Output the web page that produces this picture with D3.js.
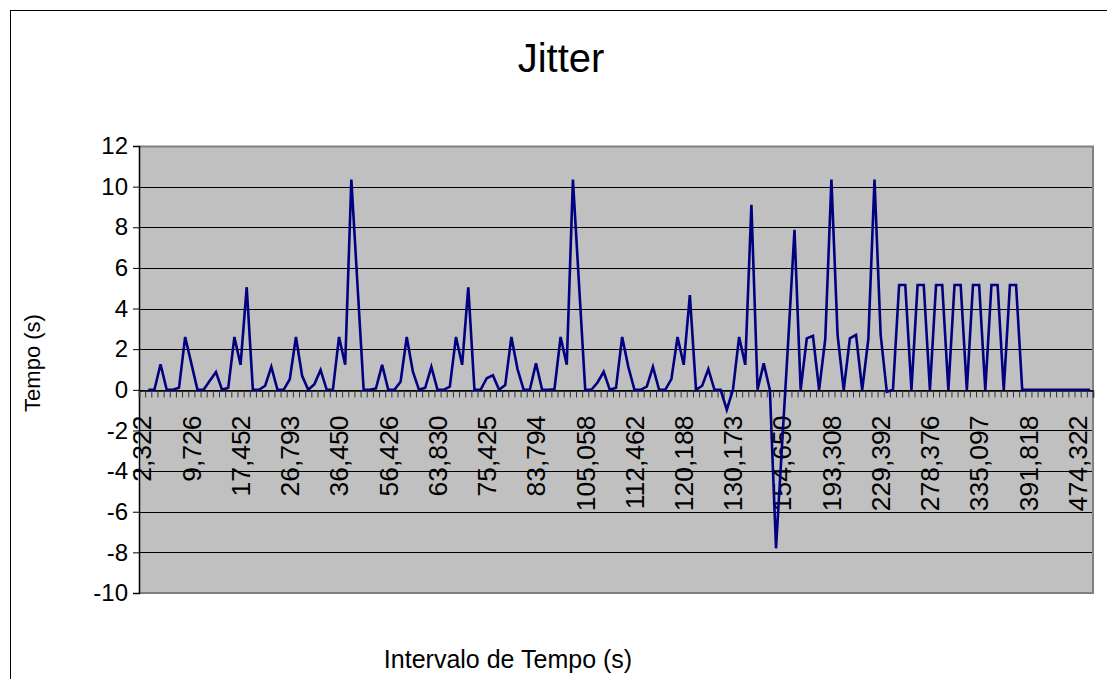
<!DOCTYPE html>
<html>
<head>
<meta charset="utf-8">
<script src="https://cdn.jsdelivr.net/npm/d3@7"></script>
<style>
  body { margin: 0; background: #fff; }
  text { font-family: Arial, "Liberation Sans", sans-serif; fill: #000; }
</style>
</head>
<body>
<div id="canvas"></div>
<script>
// jitter per sample (s) - first sample has no value
const jitter = [
  null, 0, 0, 1.26, 0, 0, 0.1, 2.6, 1.3, 0,
  0, 0.45, 0.87, 0, 0.1, 2.6, 1.23, 5.05, 0, 0,
  0.2, 1.13, 0, 0, 0.52, 2.6, 0.69, 0, 0.28, 0.98,
  0, 0, 2.6, 1.23, 10.35, 5.16, 0, 0, 0.07, 1.23,
  0, 0, 0.4, 2.6, 0.89, 0, 0.1, 1.13, 0, 0,
  0.16, 2.6, 1.23, 5.04, 0, 0, 0.57, 0.72, 0, 0.23,
  2.6, 1.02, 0, 0, 1.3, 0, 0, 0.03, 2.6, 1.23,
  10.35, 5.16, 0, 0, 0.36, 0.89, 0, 0.1, 2.6, 1.13,
  0, 0, 0.16, 1.13, 0, 0, 0.53, 2.6, 1.23, 4.66,
  0, 0.2, 1.02, 0, 0, -0.98, 0, 2.6, 1.23, 9.11,
  0, 1.3, 0, -7.8, -2.6, 2.5, 7.87, 0, 2.53, 2.66,
  0, 2.5, 10.35, 2.7, 0, 2.53, 2.7, 0, 2.5, 10.35,
  2.7, -0.1, 0, 5.16, 5.16, 0, 5.16, 5.16, 0, 5.16,
  5.16, 0, 5.16, 5.16, 0, 5.16, 5.16, 0, 5.16, 5.16,
  0, 5.16, 5.16, 0, 0, 0, 0, 0, 0, 0,
  0, 0, 0, 0, 0
];

// only every 8th category label is shown
const tickLabels = [
  "2,322", "9,726", "17,452", "26,793", "36,450", "56,426", "63,830",
  "75,425", "83,794", "105,058", "112,462", "120,188", "130,173",
  "154,650", "193,308", "229,392", "278,376", "335,097", "391,818", "474,322"
];
const labelStep = 8;
const yTicks = d3.range(-10, 13, 2);

const width = 1107;
const height = 679;
const margin = { top: 146, right: 14, bottom: 86, left: 139 };
const inWidth = width - margin.left - margin.right;
const inHeight = height - margin.top - margin.bottom;

const svg = d3.select("#canvas").append("svg")
  .attr("width", width)
  .attr("height", height);

// outer chart border
svg.append("rect")
  .attr("x", 10.5).attr("y", 10.5)
  .attr("width", width + 10).attr("height", height + 10)
  .attr("fill", "#fff").attr("stroke", "#000");

svg.append("text")
  .attr("x", 561).attr("y", 72)
  .attr("text-anchor", "middle")
  .style("font-size", "40px")
  .text("Jitter");

const n = jitter.length;
const xScale = d3.scaleBand().domain(d3.range(n)).range([0, inWidth]).padding(0);
const xEdge = d3.scaleLinear().domain([0, n]).range([0, inWidth]);
const yScale = d3.scaleLinear().domain([-10, 12]).range([inHeight, 0]);
const bw = xScale.bandwidth();

const g = svg.append("g")
  .attr("transform", `translate(${margin.left},${margin.top})`);

g.append("rect")
  .attr("width", inWidth).attr("height", inHeight)
  .attr("fill", "#c0c0c0");

// gridlines
g.append("g")
  .selectAll("line")
  .data(yTicks)
  .enter()
  .append("line")
  .attr("x1", 0).attr("x2", inWidth)
  .attr("y1", (d) => Math.round(yScale(d)) + 0.5)
  .attr("y2", (d) => Math.round(yScale(d)) + 0.5)
  .attr("stroke", "#000");

// plot border (top/right/bottom)
g.append("path")
  .attr("d", `M0,0.5H${inWidth}V${inHeight}H0`)
  .attr("fill", "none")
  .attr("stroke", "#808080")
  .attr("stroke-width", 2);

// y axis
const yAxis = g.append("g")
  .call(d3.axisLeft(yScale).tickValues(yTicks).tickSize(6).tickPadding(5).tickFormat(d3.format("d")));
yAxis.select(".domain").attr("stroke", "#000").attr("stroke-width", 1.5);
yAxis.selectAll("text")
  .style("font-size", "24px")
  .style("font-family", "Arial, 'Liberation Sans', sans-serif")
  .text((d) => (d < 0 ? "-" + Math.abs(d) : d));

// category axis at zero
const x0 = Math.round(yScale(0)) + 0.5;
const xAxis = g.append("g")
  .attr("transform", `translate(0,${x0})`)
  .call(d3.axisBottom(xEdge).tickValues(d3.range(n + 1)).tickSize(7).tickFormat(""));
xAxis.select(".domain").attr("stroke", "#000").attr("stroke-width", 1.5);
xAxis.selectAll(".tick line").attr("stroke", "#333");

// rotated category labels
g.append("g")
  .selectAll("text")
  .data(tickLabels)
  .enter()
  .append("text")
  .attr("transform", (d, k) => `translate(${xScale(k * labelStep) + bw / 2},${x0 + 25}) rotate(-90)`)
  .attr("text-anchor", "end")
  .attr("dy", "0.35em")
  .style("font-size", "26.5px")
  .text((d) => d);

// series line
const line = d3.line()
  .defined((d) => d != null)
  .x((d, i) => xScale(i) + bw / 2)
  .y((d) => yScale(d));

g.append("path")
  .datum(jitter)
  .attr("d", line)
  .attr("fill", "none")
  .attr("stroke", "#000080")
  .attr("stroke-width", 2.6)
  .attr("stroke-linejoin", "miter");

// axis titles
svg.append("text")
  .attr("transform", `translate(40,363) rotate(-90)`)
  .attr("text-anchor", "middle")
  .style("font-size", "22px")
  .text("Tempo (s)");

svg.append("text")
  .attr("x", 508).attr("y", 668)
  .attr("text-anchor", "middle")
  .style("font-size", "25px")
  .text("Intervalo de Tempo (s)");
</script>
</body>
</html>
